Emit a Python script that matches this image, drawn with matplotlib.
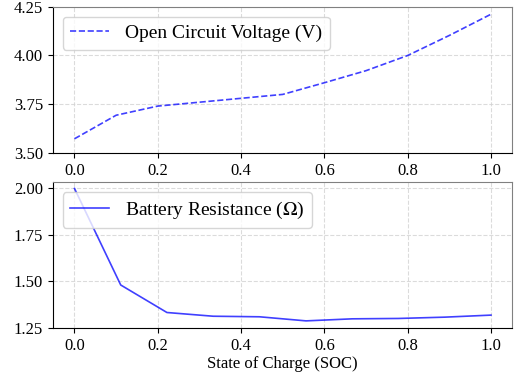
import numpy as np
import matplotlib
matplotlib.use('Agg')
import matplotlib.pyplot as plt

plt.rcParams['font.family'] = ['Liberation Serif', 'DejaVu Serif']
plt.rcParams['mathtext.fontset'] = 'stix'

# Open circuit voltage vs SOC
soc_ocv = [0.0, 0.1, 0.2, 0.3, 0.4, 0.5, 0.6, 0.7, 0.8, 0.9, 1.0]
ocv = [3.572, 3.693, 3.740, 3.760, 3.780, 3.800, 3.860, 3.922, 4.000, 4.103, 4.212]

# Battery resistance vs SOC
soc_res = [0.0, 0.111, 0.222, 0.333, 0.444, 0.556, 0.667, 0.778, 0.889, 1.0]
resistance = [2.000, 1.481, 1.333, 1.313, 1.310, 1.288, 1.299, 1.301, 1.308, 1.319]

fig, (ax1, ax2) = plt.subplots(2, 1, figsize=(5.18, 3.8), dpi=100)
fig.subplots_adjust(left=0.102, right=0.988, top=0.982, bottom=0.137, hspace=0.2)

ax1.plot(soc_ocv, ocv, '--', color='blue', alpha=0.75, linewidth=1.2,
         label='Open Circuit Voltage (V)')
ax1.set_ylim(3.5, 4.25)
ax1.set_yticks([3.5, 3.75, 4.0, 4.25])

ax2.plot(soc_res, resistance, '-', color='blue', alpha=0.75, linewidth=1.2,
         label=r'Battery Resistance ($\Omega$)')
ax2.set_ylim(1.25, 2.035)
ax2.set_yticks([1.25, 1.5, 1.75, 2.0])
ax2.set_xlabel('State of Charge (SOC)', fontsize=12, labelpad=2)

for ax in (ax1, ax2):
    ax.set_xlim(-0.052, 1.05)
    ax.set_xticks([0.0, 0.2, 0.4, 0.6, 0.8, 1.0])
    ax.grid(True, linestyle='--', color='lightgray', alpha=0.8, linewidth=0.8)
    ax.tick_params(labelsize=12)
    ax.spines['top'].set_color('gray')
    ax.spines['right'].set_color('gray')
    ax.legend(loc='upper left', fontsize=14)

plt.savefig('out.png', dpi=100)
